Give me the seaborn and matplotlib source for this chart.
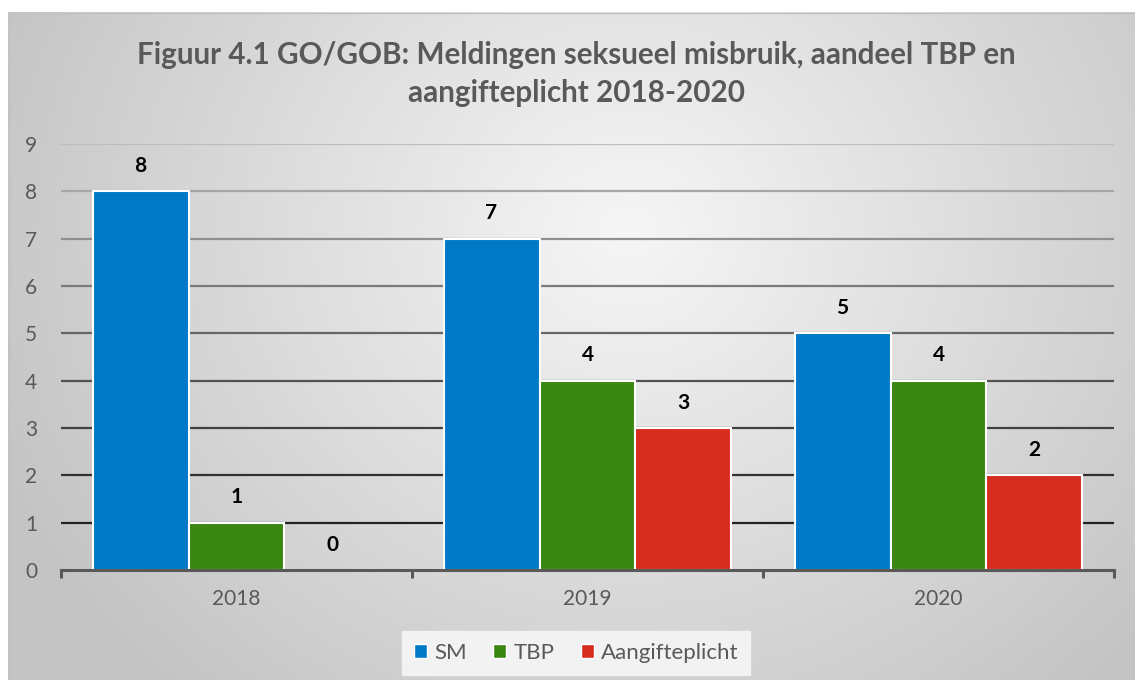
import numpy as np
import pandas as pd
import matplotlib
matplotlib.use("Agg")
import matplotlib.pyplot as plt
import seaborn as sns
from matplotlib.patches import Patch

years = ["2018", "2019", "2020"]
series = ["SM", "TBP", "Aangifteplicht"]
sm = [8, 7, 5]
tbp = [1, 4, 4]
aangifte = [0, 3, 2]
colors = ["#0079c6", "#398710", "#d62d20"]
title = "Figuur 4.1 GO/GOB: Meldingen seksueel misbruik, aandeel TBP en\naangifteplicht 2018-2020"

df = pd.DataFrame({
    "jaar": years * 3,
    "reeks": [s for s in series for _ in years],
    "waarde": sm + tbp + aangifte,
})

sns.set_theme(style="white")
plt.rcParams["font.family"] = ["Lato", "DejaVu Sans"]

W, H = 1135, 680
fig = plt.figure(figsize=(W / 100, H / 100), dpi=100)
fig.patch.set_facecolor("white")

# background gradient panel
bx0, by0 = 8, 12
bg = fig.add_axes([bx0 / W, 0, 1 - bx0 / W, (H - by0) / H])
gw, gh = W - bx0, H - by0
xx, yy = np.meshgrid(np.arange(gw), np.arange(gh))
d = np.sqrt(((xx - 620) / 1.0) ** 2 + ((yy - 220) / 0.9) ** 2)
t = np.clip(d / 680, 0, 1)
v = 0.965 - (0.965 - 0.77) * t
img = np.dstack([v, v, v])
bg.imshow(img, aspect="auto", extent=[0, gw, gh, 0], interpolation="bilinear")
bg.set_xlim(0, gw); bg.set_ylim(gh, 0)
bg.axis("off")
bg.add_patch(plt.Rectangle((0.5, 0.5), gw, gh, fill=False, ec="#c0c0c0", lw=1))

ax = fig.add_axes([61 / W, 1 - 570 / H, (1114 - 61) / W, (570 - 144) / H])
ax.set_facecolor("none")
sns.barplot(data=df, x="jaar", y="waarde", hue="reeks", order=years, hue_order=series,
            palette=colors, width=0.82, edgecolor="white", linewidth=1.5, ax=ax,
            legend=False, saturation=1)

ax.set_ylim(0, 9)
ax.set_xlim(-0.5, 2.5)
ax.set_yticks(range(0, 10))
ax.grid(axis="y", linewidth=1.6)
ax.set_axisbelow(True)
for i, gl in enumerate(ax.get_ygridlines()):
    f = i / 9
    c = 0.10 + (0.74 - 0.10) * f ** 1.3
    gl.set_color((c, c, c))
    if i == 0:
        gl.set_visible(False)

for s in ["top", "right", "left"]:
    ax.spines[s].set_visible(False)
ax.spines["bottom"].set_color("#595959")
ax.spines["bottom"].set_linewidth(2.2)
ax.spines["bottom"].set_zorder(5)

ax.tick_params(axis="y", length=0, pad=17, labelsize=15, labelcolor="#595959")
ax.tick_params(axis="x", which="major", length=0, pad=14, labelsize=15, labelcolor="#595959")
ax.xaxis.set_minor_locator(matplotlib.ticker.FixedLocator([-0.5, 0.5, 1.5, 2.5]))
ax.tick_params(axis="x", which="minor", bottom=True, length=6, width=2.2, color="#595959",
               direction="out")
ax.set_xlabel("")
ax.set_ylabel("")

for cont in ax.containers:
    ax.bar_label(cont, fmt="%d", padding=11, fontsize=15, fontweight="bold", color="black")

fig.text(576 / W, 1 - 74 / H, title, ha="center", va="center", fontsize=21.3,
         fontweight="bold", color="#595959", linespacing=1.42)

handles = [Patch(facecolor=c, edgecolor="white", linewidth=1) for c in colors]
leg = fig.legend(handles, series, loc="center", bbox_to_anchor=(576 / W, 1 - 653 / H), ncol=3,
                 frameon=True, fontsize=16, handlelength=0.6, handleheight=0.6,
                 handletextpad=0.3, columnspacing=1.2, borderpad=0.55, fancybox=False,
                 labelcolor="#595959")
leg.get_frame().set_facecolor("#f2f2f2")
leg.get_frame().set_edgecolor("#f2f2f2")
leg.get_frame().set_alpha(1)

fig.savefig("out.png", dpi=100)
